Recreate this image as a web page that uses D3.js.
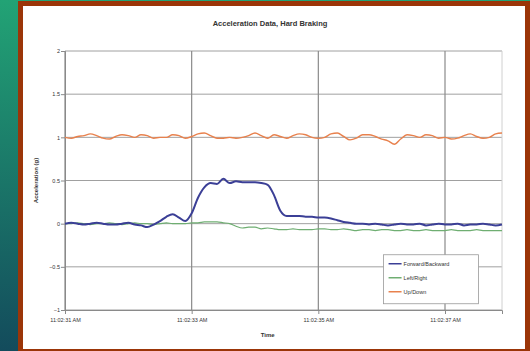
<!DOCTYPE html>
<html>
<head>
<meta charset="utf-8">
<script src="https://cdn.jsdelivr.net/npm/d3@7"></script>
<style>
  body { margin: 0; padding: 0; overflow: hidden; }
  text { font-family: "Liberation Sans", Arial, sans-serif; fill: #333; }
</style>
</head>
<body>
<div id="chart"></div>
<script>
// samples taken every 0.1 s, starting at 11:02:31 AM
var startSec = 31, stepSec = 0.1;

var seriesNames = ["Forward/Backward", "Left/Right", "Up/Down"];
var seriesColors = ["#3b3f96", "#6fae72", "#e8814d"];
var seriesWidths = [2, 1.2, 1.4];

var forwardBackward = [0.00, 0.01, 0.00, -0.01, 0.00, 0.01, 0.00, -0.01, -0.01, 0.00,
  0.01, -0.01, -0.02, -0.04, -0.01, 0.03, 0.08, 0.11, 0.07, 0.03,
  0.12, 0.30, 0.42, 0.47, 0.46, 0.52, 0.47, 0.49, 0.48, 0.48,
  0.48, 0.47, 0.45, 0.33, 0.15, 0.09, 0.09, 0.09, 0.08, 0.08,
  0.07, 0.07, 0.06, 0.04, 0.02, 0.01, 0.00, 0.00, -0.01, 0.00,
  -0.01, -0.02, -0.01, 0.00, -0.01, -0.01, 0.00, -0.02, -0.01, 0.00,
  -0.01, -0.01, 0.00, -0.02, -0.01, -0.01, 0.00, -0.01, -0.02, -0.01];

var leftRight = [0.00, 0.00, 0.01, 0.00, -0.01, 0.00, 0.00, 0.01, 0.00, -0.01,
  0.00, 0.01, 0.00, 0.00, -0.01, 0.00, 0.01, 0.00, 0.00, 0.00,
  0.01, 0.01, 0.02, 0.02, 0.02, 0.01, 0.00, -0.03, -0.05, -0.04,
  -0.04, -0.06, -0.05, -0.06, -0.07, -0.07, -0.06, -0.07, -0.07, -0.07,
  -0.06, -0.06, -0.07, -0.07, -0.06, -0.07, -0.08, -0.07, -0.07, -0.08,
  -0.07, -0.07, -0.08, -0.08, -0.07, -0.08, -0.08, -0.07, -0.08, -0.08,
  -0.08, -0.07, -0.08, -0.08, -0.08, -0.07, -0.08, -0.08, -0.08, -0.08];

var upDown = [1.00, 0.99, 1.01, 1.02, 1.04, 1.02, 0.99, 0.98, 1.01, 1.03,
  1.02, 1.00, 1.03, 1.02, 0.99, 1.00, 1.00, 1.03, 1.02, 0.99,
  1.01, 1.04, 1.05, 1.02, 0.99, 0.99, 1.00, 0.99, 1.00, 1.02,
  1.05, 1.02, 0.99, 1.03, 1.01, 0.99, 1.02, 1.04, 1.03, 1.00,
  0.99, 1.00, 1.04, 1.05, 1.01, 0.97, 0.99, 1.03, 1.03, 1.01,
  0.98, 0.96, 0.92, 0.98, 1.03, 1.02, 1.00, 1.03, 1.02, 0.99,
  1.00, 0.98, 0.99, 1.02, 1.04, 1.01, 0.99, 1.00, 1.04, 1.05];

var xTickSeconds = [31, 33, 35, 37];
var xTickLabels = ["11:02:31 AM", "11:02:33 AM", "11:02:35 AM", "11:02:37 AM"];
var yTicks = [-1, -0.5, 0, 0.5, 1, 1.5, 2];

var W = 530, H = 351;
var margin = {top: 51, right: 28, bottom: 41, left: 65};
var width = W - margin.left - margin.right,
    height = H - margin.top - margin.bottom;

var root = d3.select("#chart").append("svg")
    .attr("width", W)
    .attr("height", H);

// slide background
var grad = root.append("defs").append("linearGradient")
    .attr("id", "bg").attr("x1", 0).attr("y1", 0).attr("x2", 0).attr("y2", 1);
grad.append("stop").attr("offset", "0%").attr("stop-color", "#22a375");
grad.append("stop").attr("offset", "100%").attr("stop-color", "#134b5c");
root.append("rect").attr("width", W).attr("height", H).attr("fill", "url(#bg)");
root.append("rect").attr("x", 18).attr("y", 1).attr("width", W - 18).attr("height", H - 1).attr("fill", "#9b3508");
root.append("rect").attr("x", 23).attr("y", 6).attr("width", 502).attr("height", 343).attr("fill", "#fff");

var svg = root.append("g")
    .attr("transform", "translate(" + margin.left + "," + margin.top + ")");

var x = d3.scaleLinear()
  .domain([31, 37.9])
  .range([0, width]);

var y = d3.scaleLinear()
  .domain([-1, 2])
  .range([height, 0]);

// horizontal gridlines
svg.append("g")
  .selectAll("line")
  .data(yTicks)
  .enter().append("line")
    .attr("x1", 0).attr("x2", width)
    .attr("y1", function(d) { return y(d); })
    .attr("y2", function(d) { return y(d); })
    .attr("stroke", "#a0a0a0")
    .attr("stroke-width", 1);

// vertical gridlines
svg.append("g")
  .selectAll("line")
  .data(xTickSeconds)
  .enter().append("line")
    .attr("x1", function(d) { return x(d); })
    .attr("x2", function(d) { return x(d); })
    .attr("y1", 0).attr("y2", height)
    .attr("stroke", "#8a8a8a")
    .attr("stroke-width", 1.2);

// plot border on the right
svg.append("line")
  .attr("x1", width).attr("x2", width)
  .attr("y1", 0).attr("y2", height)
  .attr("stroke", "#d0d0d0");

// axes
var yAxis = svg.append("g")
  .call(d3.axisLeft(y).tickValues(yTicks).tickSize(4).tickFormat(d3.format("")));
var xAxis = svg.append("g")
  .attr("transform", "translate(0," + height + ")")
  .call(d3.axisBottom(x).tickValues(xTickSeconds).tickSize(4)
    .tickFormat(function(d, i) { return xTickLabels[i]; }));

[yAxis, xAxis].forEach(function(a) {
  a.select(".domain").attr("stroke", "#8a8a8a");
  a.selectAll(".tick line").attr("stroke", "#8a8a8a");
  a.selectAll("text").style("font-size", "5.5px").attr("fill", "#555");
});
yAxis.selectAll("text").attr("x", -5);
xAxis.selectAll("text").attr("y", 8);

// series lines
var allSeries = [forwardBackward, leftRight, upDown];
var line = d3.line()
  .curve(d3.curveMonotoneX)
  .x(function(d, i) { return x(startSec + i * stepSec); })
  .y(function(d) { return y(d); });

// draw the blue one last so it sits on top
[2, 1, 0].forEach(function(k) {
  svg.append("path")
    .datum(allSeries[k])
    .attr("fill", "none")
    .attr("stroke", seriesColors[k])
    .attr("stroke-width", seriesWidths[k])
    .attr("stroke-linejoin", "round")
    .attr("d", line);
});

// titles
root.append("text")
  .attr("x", 270).attr("y", 26)
  .attr("text-anchor", "middle")
  .style("font-size", "7.5px").style("font-weight", "bold")
  .text("Acceleration Data, Hard Braking");

root.append("text")
  .attr("x", margin.left + x(34.2)).attr("y", 337)
  .attr("text-anchor", "middle")
  .style("font-size", "6px").style("font-weight", "bold")
  .text("Time");

root.append("text")
  .attr("transform", "translate(38," + (margin.top + y(0.5)) + ") rotate(-90)")
  .attr("text-anchor", "middle")
  .style("font-size", "6px").style("font-weight", "bold")
  .text("Acceleration (g)");

// legend
var legend = svg.append("g")
  .attr("transform", "translate(" + (x(36.03)) + "," + (y(-0.36)) + ")");
legend.append("rect")
  .attr("width", 95).attr("height", 49)
  .attr("fill", "#fff")
  .attr("stroke", "#999").attr("stroke-width", 0.8);
seriesNames.forEach(function(name, i) {
  var g = legend.append("g").attr("transform", "translate(5," + (9 + i * 14) + ")");
  g.append("line").attr("x1", 0).attr("x2", 13).attr("y1", 0).attr("y2", 0)
    .attr("stroke", seriesColors[i]).attr("stroke-width", 1.5);
  g.append("text").attr("x", 15).attr("y", 2)
    .style("font-size", "5.5px").attr("fill", "#444")
    .text(name);
});
</script>
</body>
</html>
